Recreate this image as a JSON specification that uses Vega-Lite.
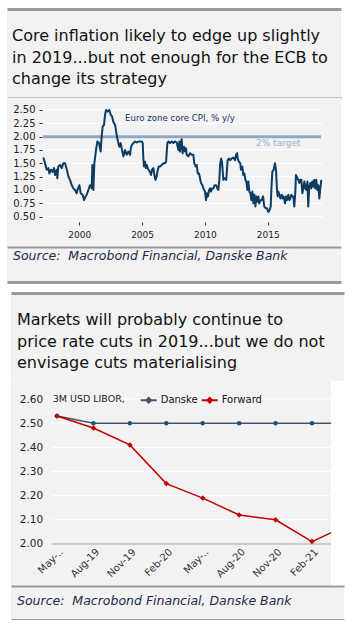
{
  "$schema": "https://vega.github.io/schema/vega-lite/v6.json",
  "background": "#ffffff",
  "padding": {"left": 7, "top": 9, "right": 0, "bottom": 0},
  "config": {
    "view": {"fill": "#f2f2f2", "stroke": null},
    "font": "DejaVu Sans",
    "title": {"anchor": "start", "font": "DejaVu Sans", "fontWeight": "normal", "color": "#111111"},
    "axis": {"labelFont": "DejaVu Sans", "titleFont": "DejaVu Sans"},
    "legend": {"labelFont": "DejaVu Sans", "titleFont": "DejaVu Sans"}
  },
  "datasets": {
    "grid1": [{"g": 0.5}, {"g": 0.75}, {"g": 1.0}, {"g": 1.25}, {"g": 1.5}, {"g": 1.75}, {"g": 2.0}, {"g": 2.25}, {"g": 2.5}],
    "grid2": [{"g": 2.1}, {"g": 2.2}, {"g": 2.3}, {"g": 2.4}, {"g": 2.5}, {"g": 2.6}],
    "lib": [
      {"period": "May-19", "idx": 0, "series": "Danske", "value": 2.53},
      {"period": "Aug-19", "idx": 1, "series": "Danske", "value": 2.50},
      {"period": "Nov-19", "idx": 2, "series": "Danske", "value": 2.50},
      {"period": "Feb-20", "idx": 3, "series": "Danske", "value": 2.50},
      {"period": "May-20", "idx": 4, "series": "Danske", "value": 2.50},
      {"period": "Aug-20", "idx": 5, "series": "Danske", "value": 2.50},
      {"period": "Nov-20", "idx": 6, "series": "Danske", "value": 2.50},
      {"period": "Feb-21", "idx": 7, "series": "Danske", "value": 2.50},
      {"period": "May-21", "idx": 8, "series": "Danske", "value": 2.50},
      {"period": "May-19", "idx": 0, "series": "Forward", "value": 2.53},
      {"period": "Aug-19", "idx": 1, "series": "Forward", "value": 2.48},
      {"period": "Nov-19", "idx": 2, "series": "Forward", "value": 2.41},
      {"period": "Feb-20", "idx": 3, "series": "Forward", "value": 2.25},
      {"period": "May-20", "idx": 4, "series": "Forward", "value": 2.19},
      {"period": "Aug-20", "idx": 5, "series": "Forward", "value": 2.12},
      {"period": "Nov-20", "idx": 6, "series": "Forward", "value": 2.10},
      {"period": "Feb-21", "idx": 7, "series": "Forward", "value": 2.01},
      {"period": "May-21", "idx": 8, "series": "Forward", "value": 2.08}
    ],
    "cpi": [
      {"t":1997.14,"v":1.61},{"t":1997.27,"v":1.50},{"t":1997.41,"v":1.38},{"t":1997.54,"v":1.41},{"t":1997.62,"v":1.31},{"t":1997.75,"v":1.38},{"t":1997.88,"v":1.34},{"t":1997.99,"v":1.41},
      {"t":1998.07,"v":1.28},{"t":1998.20,"v":1.38},{"t":1998.25,"v":1.22},{"t":1998.33,"v":1.44},{"t":1998.47,"v":1.47},{"t":1998.60,"v":1.41},{"t":1998.73,"v":1.50},{"t":1998.87,"v":1.50},{"t":1998.94,"v":1.44},
      {"t":1999.05,"v":1.34},{"t":1999.13,"v":1.25},{"t":1999.26,"v":1.19},{"t":1999.40,"v":1.09},{"t":1999.53,"v":1.03},{"t":1999.66,"v":1.00},{"t":1999.79,"v":0.94},{"t":1999.85,"v":1.00},
      {"t":2000.01,"v":1.09},{"t":2000.11,"v":0.94},{"t":2000.27,"v":0.91},{"t":2000.38,"v":0.81},{"t":2000.48,"v":0.87},{"t":2000.59,"v":0.91},{"t":2000.72,"v":1.00},{"t":2000.86,"v":1.09},{"t":2000.99,"v":1.03},
      {"t":2001.04,"v":1.47},{"t":2001.12,"v":1.00},{"t":2001.20,"v":1.50},{"t":2001.33,"v":1.75},{"t":2001.44,"v":1.91},{"t":2001.57,"v":1.88},{"t":2001.70,"v":1.72},{"t":2001.78,"v":2.00},{"t":2001.86,"v":2.19},{"t":2001.97,"v":2.22},
      {"t":2002.05,"v":2.41},{"t":2002.13,"v":2.50},{"t":2002.26,"v":2.47},{"t":2002.39,"v":2.50},{"t":2002.50,"v":2.41},{"t":2002.61,"v":2.38},{"t":2002.71,"v":2.28},{"t":2002.85,"v":2.22},{"t":2002.98,"v":2.03},
      {"t":2003.08,"v":1.91},{"t":2003.19,"v":1.81},{"t":2003.30,"v":1.88},{"t":2003.40,"v":1.75},{"t":2003.51,"v":1.63},{"t":2003.64,"v":1.75},{"t":2003.77,"v":1.66},{"t":2003.91,"v":1.72},
      {"t":2004.04,"v":1.66},{"t":2004.10,"v":1.78},{"t":2004.17,"v":1.84},{"t":2004.31,"v":1.88},{"t":2004.44,"v":1.91},{"t":2004.57,"v":1.89},{"t":2004.70,"v":1.91},{"t":2004.84,"v":1.91},{"t":2004.97,"v":1.91},
      {"t":2005.05,"v":1.88},{"t":2005.10,"v":1.59},{"t":2005.15,"v":1.44},{"t":2005.23,"v":1.53},{"t":2005.31,"v":1.41},{"t":2005.37,"v":1.47},{"t":2005.50,"v":1.38},{"t":2005.63,"v":1.34},{"t":2005.71,"v":1.28},{"t":2005.79,"v":1.38},{"t":2005.90,"v":1.41},{"t":2005.98,"v":1.28},
      {"t":2006.06,"v":1.19},{"t":2006.16,"v":1.25},{"t":2006.22,"v":1.34},{"t":2006.32,"v":1.44},{"t":2006.43,"v":1.44},{"t":2006.56,"v":1.47},{"t":2006.69,"v":1.50},{"t":2006.83,"v":1.50},{"t":2006.91,"v":1.53},
      {"t":2007.01,"v":1.88},{"t":2007.09,"v":1.91},{"t":2007.22,"v":1.88},{"t":2007.36,"v":1.91},{"t":2007.49,"v":1.88},{"t":2007.62,"v":1.91},{"t":2007.76,"v":1.89},{"t":2007.89,"v":1.75},{"t":2007.97,"v":1.91},
      {"t":2008.02,"v":1.72},{"t":2008.07,"v":1.84},{"t":2008.15,"v":1.95},{"t":2008.23,"v":1.69},{"t":2008.34,"v":1.81},{"t":2008.42,"v":1.72},{"t":2008.50,"v":1.78},{"t":2008.55,"v":1.66},{"t":2008.68,"v":1.63},{"t":2008.82,"v":1.69},{"t":2008.95,"v":1.66},
      {"t":2009.08,"v":1.66},{"t":2009.16,"v":1.50},{"t":2009.27,"v":1.44},{"t":2009.35,"v":1.47},{"t":2009.43,"v":1.31},{"t":2009.53,"v":1.31},{"t":2009.61,"v":1.22},{"t":2009.69,"v":1.13},{"t":2009.80,"v":1.09},{"t":2009.88,"v":1.03},
      {"t":2010.01,"v":0.97},{"t":2010.09,"v":0.81},{"t":2010.17,"v":0.94},{"t":2010.25,"v":0.88},{"t":2010.33,"v":1.00},{"t":2010.41,"v":1.03},{"t":2010.49,"v":0.97},{"t":2010.57,"v":1.03},{"t":2010.67,"v":1.03},{"t":2010.78,"v":1.09},{"t":2010.89,"v":1.09},{"t":2010.99,"v":1.03},
      {"t":2011.07,"v":1.00},{"t":2011.15,"v":1.19},{"t":2011.21,"v":1.47},{"t":2011.29,"v":1.59},{"t":2011.36,"v":1.53},{"t":2011.47,"v":1.19},{"t":2011.58,"v":1.22},{"t":2011.70,"v":1.19},{"t":2011.81,"v":1.56},{"t":2011.92,"v":1.59},
      {"t":2012.02,"v":1.56},{"t":2012.13,"v":1.59},{"t":2012.26,"v":1.61},{"t":2012.40,"v":1.56},{"t":2012.48,"v":1.66},{"t":2012.56,"v":1.69},{"t":2012.61,"v":1.59},{"t":2012.71,"v":1.53},{"t":2012.82,"v":1.50},{"t":2012.87,"v":1.38},{"t":2012.98,"v":1.44},
      {"t":2013.06,"v":1.28},{"t":2013.14,"v":1.31},{"t":2013.22,"v":1.19},{"t":2013.30,"v":1.16},{"t":2013.38,"v":1.00},{"t":2013.46,"v":1.16},{"t":2013.54,"v":0.97},{"t":2013.62,"v":0.94},{"t":2013.70,"v":0.81},{"t":2013.78,"v":0.97},{"t":2013.86,"v":0.75},{"t":2013.94,"v":0.91},
      {"t":2014.02,"v":0.69},{"t":2014.09,"v":0.88},{"t":2014.17,"v":0.78},{"t":2014.25,"v":0.88},{"t":2014.33,"v":0.75},{"t":2014.41,"v":0.81},{"t":2014.52,"v":0.81},{"t":2014.63,"v":0.88},{"t":2014.73,"v":0.69},{"t":2014.84,"v":0.66},{"t":2014.94,"v":0.66},
      {"t":2015.05,"v":0.59},{"t":2015.16,"v":0.63},{"t":2015.24,"v":0.69},{"t":2015.29,"v":1.00},{"t":2015.37,"v":1.34},{"t":2015.47,"v":1.38},{"t":2015.58,"v":1.50},{"t":2015.66,"v":1.38},{"t":2015.74,"v":1.00},{"t":2015.79,"v":0.88},{"t":2015.85,"v":0.97},{"t":2015.93,"v":0.91},
      {"t":2016.01,"v":0.84},{"t":2016.11,"v":0.91},{"t":2016.19,"v":0.84},{"t":2016.27,"v":0.88},{"t":2016.38,"v":0.75},{"t":2016.46,"v":0.88},{"t":2016.54,"v":0.81},{"t":2016.64,"v":0.91},{"t":2016.72,"v":0.81},{"t":2016.80,"v":0.84},{"t":2016.88,"v":0.91},{"t":2016.96,"v":0.88},
      {"t":2017.04,"v":0.88},{"t":2017.12,"v":0.69},{"t":2017.20,"v":0.97},{"t":2017.25,"v":1.28},{"t":2017.36,"v":1.22},{"t":2017.44,"v":1.19},{"t":2017.52,"v":1.13},{"t":2017.60,"v":1.19},{"t":2017.68,"v":1.19},{"t":2017.76,"v":0.94},{"t":2017.84,"v":1.03},{"t":2017.92,"v":1.16},
      {"t":2018.00,"v":1.03},{"t":2018.08,"v":1.00},{"t":2018.16,"v":1.16},{"t":2018.23,"v":0.69},{"t":2018.31,"v":1.06},{"t":2018.39,"v":1.13},{"t":2018.47,"v":1.03},{"t":2018.55,"v":1.16},{"t":2018.63,"v":1.06},{"t":2018.71,"v":1.19},{"t":2018.79,"v":1.03},{"t":2018.87,"v":1.19},{"t":2018.95,"v":1.00},
      {"t":2019.03,"v":1.09},{"t":2019.11,"v":0.84},{"t":2019.19,"v":1.03},{"t":2019.27,"v":1.19}
    ]
  },
  "spacing": 5,
  "vconcat": [
    {
      "spacing": 0,
      "vconcat": [
        {
          "width": 334, "height": 89,
          "title": {"text": ["Core inflation likely to edge up slightly", "in 2019...but not enough for the ECB to", "change its strategy"], "fontSize": 16, "lineHeight": 21.5, "offset": -78, "dx": 5},
          "data": {"values": [{}]},
          "layer": [
            {"mark": {"type": "text", "text": ""}, "encoding": {"y": {"datum": 0.5, "type": "quantitative", "scale": {"domain": [0, 1]}, "axis": null}, "x": {"datum": 0.5, "type": "quantitative", "scale": {"domain": [0, 1]}, "axis": {"orient": "top", "domainColor": "#999999", "domainWidth": 3, "ticks": false, "labels": false, "grid": false, "title": null}}}},
            {"mark": {"type": "text", "text": ""}, "encoding": {"y": {"datum": 0.5, "type": "quantitative"}, "x": {"datum": 0.5, "type": "quantitative", "scale": {"domain": [0, 1]}, "axis": {"orient": "bottom", "domainColor": "#999999", "domainWidth": 2, "ticks": false, "labels": false, "grid": false, "title": null}}}}
          ],
          "resolve": {"scale": {"x": "independent"}, "axis": {"x": "independent"}}
        },
        {
          "width": 334, "height": 149,
          "layer": [
            {
              "data": {"name": "grid1"},
              "mark": {"type": "rule", "color": "#ffffff", "strokeWidth": 1},
              "encoding": {
                "y": {"field": "g", "type": "quantitative", "scale": {"domain": [-0.0688, 2.725], "nice": false, "zero": false},
                  "axis": {"values": [0.5, 0.75, 1, 1.25, 1.5, 1.75, 2, 2.25, 2.5], "tickCount": 30, "format": ".2f", "offset": -35, "tickSize": 3, "tickColor": "#333333", "domain": false, "grid": false, "labelPadding": 4, "labelFontSize": 10, "labelColor": "#222222", "labelOverlap": false, "title": null}},
                "x": {"datum": 1997.11, "type": "quantitative", "scale": {"domain": [1994.244, 2020.836], "nice": false, "zero": false},
                  "axis": {"values": [2000, 2005, 2010, 2015], "tickCount": 30, "format": "d", "offset": -25, "tickSize": 3, "tickColor": "#333333", "domain": false, "grid": false, "labelPadding": 5, "labelFontSize": 9, "labelColor": "#222222", "labelOverlap": false, "labelFlush": false, "title": null}},
                "x2": {"datum": 2019.4}
              }
            },
            {
              "data": {"values": [{}]},
              "mark": {"type": "rule", "color": "#8fa9c5", "strokeWidth": 3},
              "encoding": {"y": {"datum": 2}, "x": {"datum": 1997.11}, "x2": {"datum": 2019.25}}
            },
            {
              "data": {"name": "cpi"},
              "mark": {"type": "line", "color": "#0b3c64", "strokeWidth": 2, "strokeJoin": "round"},
              "encoding": {"x": {"field": "t", "type": "quantitative"}, "y": {"field": "v", "type": "quantitative"}}
            },
            {
              "data": {"values": [{"label": "Euro zone core CPI, % y/y"}]},
              "mark": {"type": "text", "align": "left", "baseline": "middle", "fontSize": 8.6, "color": "#17375e"},
              "encoding": {"x": {"datum": 2003.64}, "y": {"datum": 2.35}, "text": {"field": "label"}}
            },
            {
              "data": {"values": [{"label": "2% target"}]},
              "mark": {"type": "text", "align": "left", "baseline": "middle", "fontSize": 9, "color": "#9cb3cc"},
              "encoding": {"x": {"datum": 2014.07}, "y": {"datum": 1.88}, "text": {"field": "label"}}
            }
          ]
        },
        {
          "width": 334, "height": 35,
          "title": {"text": "Source:\u00a0 Macrobond Financial, Danske Bank", "fontSize": 12.5, "fontStyle": "italic", "color": "#1c2b4a", "offset": -15.5, "dx": 6},
          "data": {"values": [{}]},
          "layer": [
            {"mark": {"type": "text", "text": ""}, "encoding": {"y": {"datum": 0.5, "type": "quantitative", "scale": {"domain": [0, 1]}, "axis": null}, "x": {"datum": 0.5, "type": "quantitative", "scale": {"domain": [0, 1]}, "axis": {"orient": "top", "domainColor": "#999999", "domainWidth": 2, "ticks": false, "labels": false, "grid": false, "title": null}}}},
            {"mark": {"type": "text", "text": ""}, "encoding": {"y": {"datum": 0.5, "type": "quantitative"}, "x": {"datum": 0.5, "type": "quantitative", "scale": {"domain": [0, 1]}, "axis": {"orient": "bottom", "domainColor": "#999999", "domainWidth": 3, "ticks": false, "labels": false, "grid": false, "title": null}}}}
          ],
          "resolve": {"scale": {"x": "independent"}, "axis": {"x": "independent"}}
        }
      ]
    },
    {
      "spacing": 0,
      "hconcat": [
        {"width": 4, "height": 1, "data": {"values": [{}]}, "mark": {"type": "text", "text": ""}, "view": {"fill": null, "stroke": null}},
        {
          "spacing": 0,
          "vconcat": [
            {
              "width": 333, "height": 87.8,
              "title": {"text": ["Markets will probably continue to", "price rate cuts in 2019...but we do not", "envisage cuts materialising"], "fontSize": 16, "lineHeight": 21.5, "offset": -78, "dx": 6},
              "data": {"values": [{}]},
              "mark": {"type": "text", "text": ""},
              "encoding": {"y": {"datum": 0.5, "type": "quantitative", "scale": {"domain": [0, 1]}, "axis": null}, "x": {"datum": 0.5, "type": "quantitative", "scale": {"domain": [0, 1]}, "axis": {"orient": "top", "domainColor": "#999999", "domainWidth": 3, "ticks": false, "labels": false, "grid": false, "title": null}}}
            },
            {
              "spacing": 0,
              "hconcat": [
                {
                  "width": 320, "height": 205,
                  "layer": [
                    {
                      "data": {"name": "grid2"},
                      "mark": {"type": "rule", "color": "#ffffff", "strokeWidth": 1},
                      "encoding": {
                        "y": {"field": "g", "type": "quantitative", "scale": {"domain": [1.8262, 2.6745], "nice": false, "zero": false},
                          "axis": {"values": [2.0, 2.1, 2.2, 2.3, 2.4, 2.5, 2.6], "tickCount": 30, "format": ".2f", "offset": -33.7, "ticks": false, "domain": false, "grid": false, "labelPadding": 2, "labelFontSize": 10.5, "labelColor": "#222222", "labelOverlap": false, "title": null}},
                        "x": {"datum": -0.137, "type": "quantitative", "scale": {"domain": [-1.263, 7.521], "nice": false, "zero": false},
                          "axis": {"values": [0, 1, 2, 3, 4, 5, 6, 7], "tickCount": 30, "labelExpr": "['May-..','Aug-19','Nov-19','Feb-20','May-..','Aug-20','Nov-20','Feb-21'][datum.value]", "labelAngle": -45, "labelAlign": "right", "labelBaseline": "middle", "labelOffset": 4, "labelPadding": 6, "offset": -42, "ticks": false, "domain": false, "grid": false, "labelFontSize": 10, "labelColor": "#333333", "labelOverlap": false, "labelFlush": false, "title": null}},
                        "x2": {"datum": 7.521}
                      }
                    },
                    {
                      "data": {"values": [{}]},
                      "mark": {"type": "rule", "color": "#a6a6a6", "strokeWidth": 1},
                      "encoding": {"y": {"datum": 2.0}, "x": {"datum": -0.137}, "x2": {"datum": 7.521}}
                    },
                    {
                      "data": {"name": "lib"},
                      "mark": {"type": "line", "strokeWidth": 1.5, "clip": true},
                      "encoding": {
                        "x": {"field": "idx", "type": "quantitative"},
                        "y": {"field": "value", "type": "quantitative"},
                        "color": {"field": "series", "type": "nominal", "scale": {"domain": ["Danske", "Forward"], "range": ["#44546a", "#c00000"]},
                          "legend": {"orient": "none", "legendX": 45.7, "legendY": 382, "direction": "horizontal", "title": "3M USD LIBOR,", "titleOrient": "left", "titleFontSize": 9.5, "titleFontWeight": "normal", "titleColor": "#222222", "titlePadding": 14, "symbolType": "M-1,0H1M0,-0.3L0.3,0L0,0.3L-0.3,0Z", "symbolSize": 256, "symbolStrokeWidth": 2, "labelFontSize": 10, "labelOffset": 3, "columnPadding": 0, "labelColor": "#111111"}}
                      }
                    },
                    {
                      "data": {"name": "lib"},
                      "transform": [{"filter": "datum.series === 'Danske'"}],
                      "mark": {"type": "point", "shape": "circle", "filled": true, "size": 20, "opacity": 1, "color": "#1f4e79", "clip": true},
                      "encoding": {"x": {"field": "idx", "type": "quantitative"}, "y": {"field": "value", "type": "quantitative"}}
                    },
                    {
                      "data": {"name": "lib"},
                      "transform": [{"filter": "datum.series === 'Forward'"}],
                      "mark": {"type": "point", "shape": "diamond", "filled": true, "size": 30, "opacity": 1, "color": "#c00000", "clip": true},
                      "encoding": {"x": {"field": "idx", "type": "quantitative"}, "y": {"field": "value", "type": "quantitative"}}
                    }
                  ]
                },
                {"width": 13, "height": 205, "data": {"values": [{}]}, "mark": {"type": "text", "text": ""}}
              ]
            },
            {
              "width": 333, "height": 34,
              "title": {"text": "Source:\u00a0 Macrobond Financial, Danske Bank", "fontSize": 12.5, "fontStyle": "italic", "color": "#1c2b4a", "offset": -21, "dx": 6},
              "data": {"values": [{}]},
              "layer": [
                {"mark": {"type": "text", "text": ""}, "encoding": {"y": {"datum": 0.5, "type": "quantitative", "scale": {"domain": [0, 1]}, "axis": null}, "x": {"datum": 0.5, "type": "quantitative", "scale": {"domain": [0, 1]}, "axis": {"orient": "top", "domainColor": "#999999", "domainWidth": 2, "ticks": false, "labels": false, "grid": false, "title": null}}}},
                {"mark": {"type": "text", "text": ""}, "encoding": {"y": {"datum": 0.5, "type": "quantitative"}, "x": {"datum": 0.5, "type": "quantitative", "scale": {"domain": [0, 1]}, "axis": {"orient": "bottom", "domainColor": "#999999", "domainWidth": 3, "ticks": false, "labels": false, "grid": false, "title": null}}}}
              ],
              "resolve": {"scale": {"x": "independent"}, "axis": {"x": "independent"}}
            }
          ]
        }
      ]
    }
  ]
}
